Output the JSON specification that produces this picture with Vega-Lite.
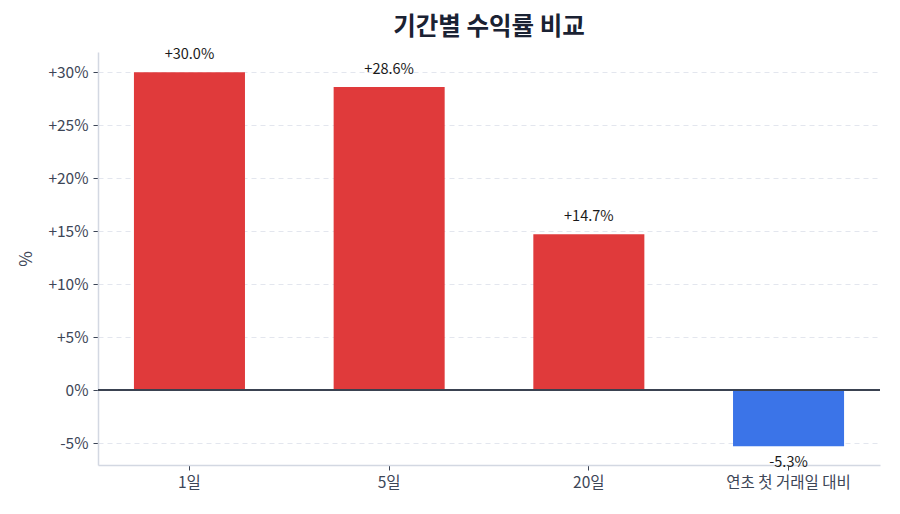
{
  "$schema": "https://vega.github.io/schema/vega-lite/v6.json",
  "autosize": {"type": "none"},
  "width": 782,
  "height": 413,
  "padding": {"left": 98, "top": 52, "right": 20, "bottom": 49},
  "background": "white",
  "config": {
    "font": "Noto Sans CJK KR",
    "view": {"stroke": null}
  },
  "title": {
    "text": "기간별 수익률 비교",
    "fontSize": 24.5,
    "fontWeight": "bold",
    "color": "#1a2233",
    "anchor": "middle",
    "offset": 7
  },
  "data": {
    "values": [
      {"period": "1일", "value": 30.0, "label": "+30.0%"},
      {"period": "5일", "value": 28.6, "label": "+28.6%"},
      {"period": "20일", "value": 14.7, "label": "+14.7%"},
      {"period": "연초 첫 거래일 대비", "value": -5.3, "label": "-5.3%"}
    ]
  },
  "encoding": {
    "x": {
      "field": "period",
      "type": "nominal",
      "sort": null,
      "scale": {"paddingInner": 0.444, "paddingOuter": 0.18},
      "axis": {
        "title": null,
        "labelAngle": 0,
        "labelFontSize": 15.5,
        "labelColor": "#3d4657",
        "labelPadding": 5,
        "tickColor": "#3d4657",
        "tickSize": 5,
        "domainColor": "#d3d8e2",
        "domainWidth": 1.5,
        "grid": false
      }
    },
    "y": {
      "field": "value",
      "type": "quantitative",
      "scale": {"domain": [-7.07, 31.9], "nice": false, "zero": false},
      "axis": {
        "title": "%",
        "titleFontSize": 17,
        "titleFontWeight": "normal",
        "titleColor": "#3d4657",
        "titlePadding": 12,
        "values": [-5, 0, 5, 10, 15, 20, 25, 30],
        "labelExpr": "datum.value > 0 ? '+' + datum.value + '%' : datum.value + '%'",
        "labelFontSize": 15.5,
        "labelColor": "#3d4657",
        "labelPadding": 5,
        "tickColor": "#3d4657",
        "tickSize": 5,
        "domainColor": "#d3d8e2",
        "domainWidth": 1.5,
        "grid": true,
        "gridColor": "#e3e6ee",
        "gridDash": [5, 4],
        "gridWidth": 1
      }
    }
  },
  "layer": [
    {
      "mark": {"type": "bar"},
      "encoding": {
        "color": {
          "condition": {"test": "datum.value < 0", "value": "#3b74e8"},
          "value": "#e03a3b"
        }
      }
    },
    {
      "mark": {"type": "rule", "color": "#3a4250", "strokeWidth": 1.6},
      "encoding": {"y": {"datum": 0}, "x": {"value": 0}, "x2": {"value": 782}}
    },
    {
      "transform": [{"filter": "datum.value >= 0"}],
      "mark": {"type": "text", "baseline": "bottom", "dy": -10, "fontSize": 14.5, "color": "#1a1a1a"},
      "encoding": {"text": {"field": "label"}}
    },
    {
      "transform": [{"filter": "datum.value < 0"}],
      "mark": {"type": "text", "baseline": "top", "dy": 10, "fontSize": 14.5, "color": "#1a1a1a"},
      "encoding": {"text": {"field": "label"}}
    }
  ]
}
